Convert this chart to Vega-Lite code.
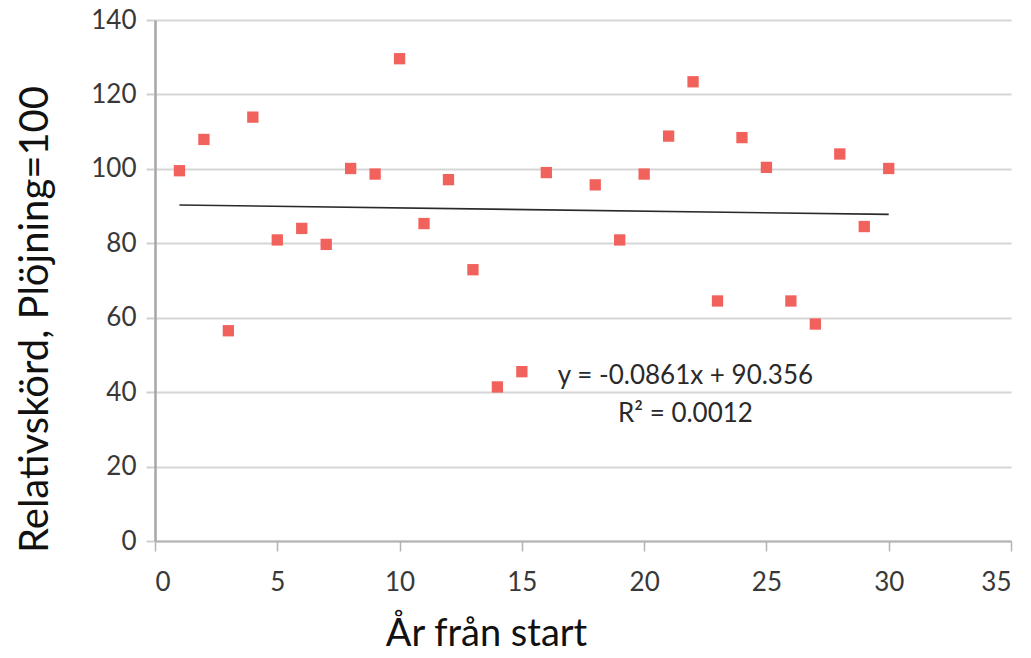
{
  "$schema": "https://vega.github.io/schema/vega-lite/v6.json",
  "width": 856,
  "height": 521,
  "autosize": {"type": "none"},
  "padding": {"left": 155, "top": 20, "right": 20, "bottom": 117},
  "background": "white",
  "config": {
    "view": {"stroke": null},
    "font": "Lato",
    "axis": {"labelFont": "Lato", "titleFont": "Lato"}
  },
  "layer": [
    {
      "data": {"values": [
        {"year": 1, "yield": 99.5}, {"year": 2, "yield": 107.9}, {"year": 3, "yield": 56.5},
        {"year": 4, "yield": 113.9}, {"year": 5, "yield": 80.9}, {"year": 6, "yield": 84.0},
        {"year": 7, "yield": 79.7}, {"year": 8, "yield": 100.1}, {"year": 9, "yield": 98.6},
        {"year": 10, "yield": 129.6}, {"year": 11, "yield": 85.3}, {"year": 12, "yield": 97.1},
        {"year": 13, "yield": 72.9}, {"year": 14, "yield": 41.4}, {"year": 15, "yield": 45.5},
        {"year": 16, "yield": 99.0}, {"year": 18, "yield": 95.7}, {"year": 19, "yield": 80.9},
        {"year": 20, "yield": 98.6}, {"year": 21, "yield": 108.8}, {"year": 22, "yield": 123.4},
        {"year": 23, "yield": 64.5}, {"year": 24, "yield": 108.4}, {"year": 25, "yield": 100.4},
        {"year": 26, "yield": 64.5}, {"year": 27, "yield": 58.3}, {"year": 28, "yield": 104.0},
        {"year": 29, "yield": 84.5}, {"year": 30, "yield": 100.1}
      ]},
      "mark": {"type": "point", "shape": "square", "filled": true, "size": 128, "color": "#f2625c", "opacity": 1},
      "encoding": {
        "x": {
          "field": "year", "type": "quantitative",
          "scale": {"domain": [0, 35], "nice": false, "zero": false},
          "axis": {
            "title": "År från start",
            "values": [0, 5, 10, 15, 20, 25, 30, 35],
            "grid": false,
            "domainColor": "#b3b3b3", "domainWidth": 2,
            "tickColor": "#b3b3b3", "tickWidth": 1.5, "tickSize": 10,
            "labelFontSize": 26, "labelColor": "#383838", "labelPadding": 18,
            "titleFontSize": 38, "titleFontWeight": "normal", "titleColor": "#111111",
            "titleX": 331, "titleY": 104, "titleAlign": "center", "titleBaseline": "alphabetic", "titleAnchor": null
          }
        },
        "y": {
          "field": "yield", "type": "quantitative",
          "scale": {"domain": [0, 140], "nice": false},
          "axis": {
            "title": "Relativskörd, Plöjning=100",
            "values": [0, 20, 40, 60, 80, 100, 120, 140],
            "grid": true, "gridColor": "#d6d6d6", "gridWidth": 2,
            "domainColor": "#a6a6a6", "domainWidth": 2.5,
            "tickColor": "#d0d0d0", "tickWidth": 2, "tickSize": 9,
            "labelFontSize": 26, "labelColor": "#383838", "labelPadding": 10,
            "titleFontSize": 40, "titleFontWeight": "normal", "titleColor": "#111111",
            "titleAngle": -90, "titleX": -108, "titleY": 299, "titleAlign": "center", "titleBaseline": "alphabetic", "titleAnchor": null
          }
        }
      }
    },
    {
      "data": {"values": [{"year": 1, "fit": 90.27}, {"year": 30, "fit": 87.77}]},
      "mark": {"type": "line", "color": "#2a2a2a", "strokeWidth": 1.6},
      "encoding": {
        "x": {"field": "year", "type": "quantitative"},
        "y": {"field": "fit", "type": "quantitative"}
      }
    },
    {
      "data": {"values": [
        {"year": 21.69, "pos": 42.25, "label": "y = -0.0861x + 90.356"},
        {"year": 21.69, "pos": 32.1, "label": "R² = 0.0012"}
      ]},
      "mark": {"type": "text", "font": "Lato", "fontSize": 26, "color": "#2a2a2a", "align": "center", "baseline": "alphabetic"},
      "encoding": {
        "x": {"field": "year", "type": "quantitative"},
        "y": {"field": "pos", "type": "quantitative"},
        "text": {"field": "label"}
      }
    }
  ]
}
